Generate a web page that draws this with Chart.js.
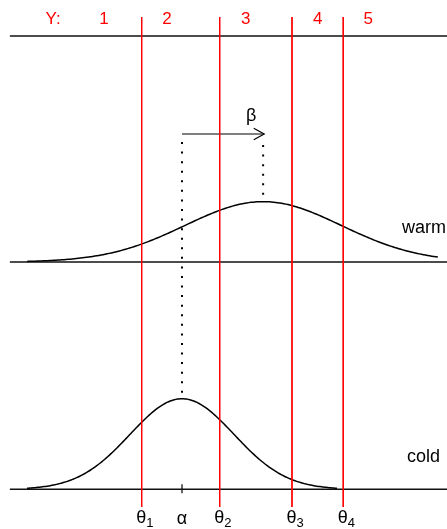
<!DOCTYPE html>
<html>
<head>
<meta charset="utf-8">
<script src="https://cdn.jsdelivr.net/npm/chart.js@4"></script>
<style>
  html, body { margin: 0; padding: 0; background: #fff; }
  canvas { display: block; }
</style>
</head>
<body>
<canvas id="chart" width="447" height="529"></canvas>
<script>
// latent scale: cold sd = 1, alpha = 0
const responseLevels = ['1', '2', '3', '4', '5'];
const responseLabelX = [-1.5, -0.29, 1.225, 2.61, 3.58];
const thresholds = [-0.775, 0.725, 2.115, 3.10];
const thresholdSubs = ['1', '2', '3', '4'];
const groups = ['cold', 'warm'];
const groupMeans = [0, 1.56];   // alpha, alpha + beta
const groupSds = [1, 1.5];
const curveFrom = [-2.98, -2.98];
const curveTo = [2.98, 4.92];

// page layout (pixels from top for y)
const layout = {
    xMin: -3.5, xMax: 5.096, lineStart: -3.31,
    topLine: 36, baselines: [489.3, 262], densityScale: 227,
    redTop: 17, redBottom: 507,
    arrowY: 134, dotStart: [142, 145]
};

const font = "'Liberation Sans', Arial, sans-serif";

function dnorm(x, m, s) {
    return Math.exp(-0.5 * ((x - m) / s) ** 2) / (s * Math.sqrt(2 * Math.PI));
}

function curvePoints(g) {
    const pts = [];
    const n = 200;
    for (let i = 0; i <= n; i++) {
        const x = curveFrom[g] + (curveTo[g] - curveFrom[g]) * i / n;
        pts.push({ x: x, y: layout.baselines[g] - layout.densityScale * dnorm(x, groupMeans[g], groupSds[g]) });
    }
    return pts;
}

function peakY(g) {
    return layout.baselines[g] - layout.densityScale * dnorm(groupMeans[g], groupMeans[g], groupSds[g]);
}

const datasets = [];

// threshold lines (first = drawn on top)
thresholds.forEach(t => {
    datasets.push({ data: [{ x: t, y: layout.redTop }, { x: t, y: layout.redBottom }], borderColor: '#ff0000', borderWidth: 1 });
});

// density curves
groups.forEach((g, i) => {
    datasets.push({ data: curvePoints(i), borderColor: '#000', borderWidth: 1.5 });
});

// horizontal lines
[layout.topLine, layout.baselines[1], layout.baselines[0]].forEach(y => {
    datasets.push({ data: [{ x: layout.lineStart, y: y }, { x: layout.xMax, y: y }], borderColor: '#111', borderWidth: 1.5 });
});

// dotted lines from arrow down to peaks
groups.forEach((g, i) => {
    datasets.push({
        data: [{ x: groupMeans[i], y: layout.dotStart[i] }, { x: groupMeans[i], y: peakY(i) }],
        borderColor: '#000', borderWidth: 2, borderDash: [2, 7.57]
    });
});

// beta arrow
const tip = groupMeans[1] + 0.02;
datasets.push({ data: [{ x: groupMeans[0], y: layout.arrowY }, { x: tip, y: layout.arrowY }], borderColor: '#000', borderWidth: 1.2 });
datasets.push({
    data: [{ x: tip - 0.2, y: layout.arrowY - 5.7 }, { x: tip, y: layout.arrowY }, { x: tip - 0.2, y: layout.arrowY + 5.7 }],
    borderColor: '#000', borderWidth: 1.2
});

// alpha tick on bottom axis
datasets.push({ data: [{ x: groupMeans[0], y: layout.baselines[0] - 5 }, { x: groupMeans[0], y: layout.baselines[0] + 4 }], borderColor: '#000', borderWidth: 1.2 });

datasets.forEach(d => {
    d.showLine = true;
    d.pointRadius = 0;
    d.fill = false;
    d.tension = 0;
});

const labelPlugin = {
    id: 'labels',
    afterDraw(chart) {
        const ctx = chart.ctx;
        const xs = chart.scales.x;
        const px = v => xs.getPixelForValue(v);
        ctx.save();

        // response categories
        ctx.fillStyle = '#ff0000';
        ctx.font = '17px ' + font;
        ctx.textAlign = 'center';
        ctx.textBaseline = 'alphabetic';
        ctx.fillText('Y:', px(-2.48), 23.5);
        responseLevels.forEach((lab, i) => ctx.fillText(lab, px(responseLabelX[i]), 23.5));

        // group labels
        ctx.fillStyle = '#000';
        ctx.font = '18px ' + font;
        ctx.textAlign = 'right';
        ctx.fillText('warm', 446, 233);
        ctx.fillText('cold', 440, 462);

        // beta
        ctx.textAlign = 'center';
        ctx.fillText('\u03B2', px((groupMeans[0] + groupMeans[1]) / 2 + 0.55), 121);

        // thresholds and alpha
        thresholds.forEach((t, i) => {
            ctx.font = '18px ' + font;
            ctx.textAlign = 'center';
            ctx.fillText('\u03B8', px(t) - 0.5, 522.5);
            ctx.font = '13px ' + font;
            ctx.textAlign = 'left';
            ctx.fillText(thresholdSubs[i], px(t) + 4.5, 526.5);
        });
        ctx.font = '18px ' + font;
        ctx.textAlign = 'center';
        ctx.fillText('\u03B1', px(groupMeans[0]), 523.5);

        ctx.restore();
    }
};

new Chart(document.getElementById('chart').getContext('2d'), {
    type: 'scatter',
    data: { datasets: datasets },
    options: {
        responsive: false,
        devicePixelRatio: 1,
        animation: false,
        layout: { padding: 0 },
        plugins: { legend: { display: false }, tooltip: { enabled: false } },
        scales: {
            x: { type: 'linear', min: layout.xMin, max: layout.xMax, display: false },
            y: { type: 'linear', min: 0, max: 529, reverse: true, display: false }
        }
    },
    plugins: [labelPlugin]
});
</script>
</body>
</html>
